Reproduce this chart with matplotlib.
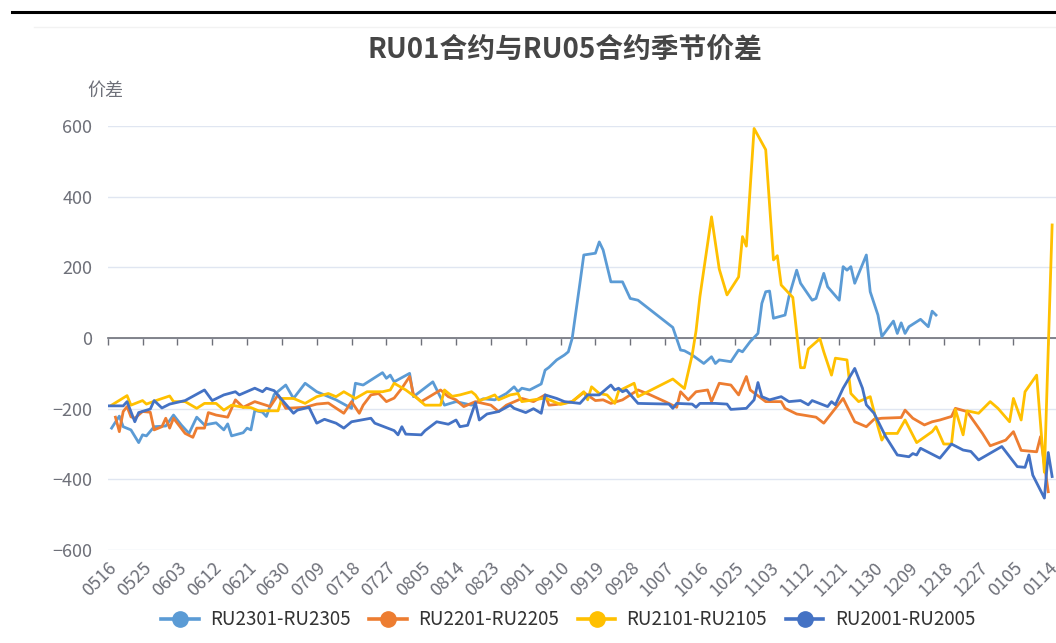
import matplotlib
matplotlib.use('Agg')

import matplotlib.pyplot as plt
import numpy as np
from matplotlib.lines import Line2D

plt.rcParams['font.family'] = ['Noto Sans CJK SC', 'DejaVu Sans']

# x values are day offsets from 05-16 (one category per calendar day)
tick_labels = ['0516', '0525', '0603', '0612', '0621', '0630', '0709', '0718', '0727', '0805',
               '0814', '0823', '0901', '0910', '0919', '0928', '1007', '1016', '1025', '1103',
               '1112', '1121', '1130', '1209', '1218', '1227', '0105', '0114']
tick_step = 9

ru2301_day = [1, 3, 4, 6, 8, 9, 10, 12, 15, 17, 19, 21, 23, 25, 28, 30, 31, 32, 35, 36, 37, 38, 40, 41,
              43, 46, 48, 51, 54, 59, 63, 64, 66, 71, 72, 73, 74, 78, 79, 84, 87, 90, 94, 97, 100,
              103, 105, 106, 107, 109, 112, 113, 114, 116, 118, 119, 120, 122, 123, 126, 127, 128,
              130, 133, 135, 137, 146, 148, 149, 151, 154, 156, 157, 158, 161, 163, 164, 166, 168,
              169, 170, 171, 172, 175, 176, 178, 179, 182, 183, 185, 186, 189, 190, 191, 192, 193,
              196, 197, 199, 200, 203, 204, 205, 206, 207, 210, 212, 213, 214]
ru2301_val = [-255, -221, -251, -260, -296, -274, -277, -251, -249, -218, -246, -270, -224, -246,
              -240, -260, -243, -277, -268, -255, -260, -205, -210, -222, -160, -133, -171, -128,
              -152, -175, -199, -128, -133, -98, -114, -105, -124, -100, -166, -124, -190, -180,
              -190, -172, -175, -157, -138, -152, -142, -147, -130, -91, -83, -62, -48, -39, -1,
              155, 235, 240, 272, 249, 159, 159, 112, 107, 30, -34, -36, -48, -72, -53, -72, -62,
              -67, -34, -39, -10, 13, 98, 131, 133, 56, 65, 117, 192, 155, 107, 112, 183, 145, 107,
              202, 192, 202, 155, 235, 131, 65, 4, 48, 13, 43, 13, 32, 53, 32, 76, 65]

ru2201_day = [2, 3, 4, 5, 6, 7, 9, 11, 12, 14, 15, 16, 17, 20, 22, 23, 25, 26, 28, 31, 33, 35, 38,
              42, 44, 46, 51, 54, 57, 61, 63, 65, 66, 68, 70, 72, 74, 76, 78, 79, 81, 86, 88, 90,
              91, 92, 95, 99, 101, 103, 107, 110, 113, 114, 116, 120, 123, 126, 128, 130, 133, 137,
              140, 144, 147, 148, 150, 152, 155, 156, 158, 161, 163, 165, 166, 170, 174, 175, 178,
              183, 185, 187, 190, 193, 196, 198, 200, 205, 206, 208, 211, 213, 215, 218, 219, 222,
              226, 228, 232, 234, 236, 240, 241, 243]
ru2201_val = [-224, -265, -208, -194, -223, -227, -208, -210, -260, -251, -227, -255, -227, -270,
              -281, -255, -255, -211, -218, -224, -175, -196, -180, -194, -161, -199, -196, -187,
              -184, -213, -180, -213, -190, -161, -157, -180, -170, -142, -109, -161, -180, -147,
              -166, -175, -185, -194, -180, -190, -208, -190, -171, -180, -161, -190, -188, -180,
              -154, -177, -175, -185, -175, -147, -160, -180, -196, -152, -175, -152, -147, -180,
              -128, -133, -161, -109, -147, -180, -180, -199, -215, -224, -241, -213, -171, -237,
              -251, -230, -227, -225, -204, -227, -246, -237, -232, -222, -199, -208, -270, -305,
              -289, -265, -318, -322, -279, -435]

ru2101_day = [1, 5, 6, 9, 10, 13, 16, 17, 20, 23, 25, 28, 30, 32, 35, 37, 39, 44, 45, 48, 51, 54,
              57, 59, 61, 64, 67, 71, 73, 74, 77, 80, 82, 84, 86, 87, 89, 91, 94, 95, 96, 98, 100,
              101, 104, 106, 107, 110, 113, 117, 120, 123, 124, 125, 127, 129, 131, 132, 136, 137,
              146, 149, 151, 152, 153, 156, 158, 160, 163, 164, 165, 167, 170, 172, 173, 174, 177,
              179, 180, 181, 184, 185, 187, 188, 191, 192, 194, 197, 199, 200, 201, 204, 206, 209,
              213, 214, 216, 218, 219, 221, 222, 225, 228, 230, 233, 234, 236, 237, 240, 242, 244]
ru2101_val = [-190, -163, -190, -177, -187, -175, -164, -180, -180, -199, -185, -185, -204, -190,
              -196, -197, -206, -206, -171, -171, -185, -166, -157, -166, -152, -171, -152, -152,
              -147, -128, -147, -171, -190, -190, -190, -147, -165, -161, -152, -161, -177, -170,
              -161, -175, -161, -157, -180, -175, -170, -188, -180, -152, -175, -138, -157, -161,
              -185, -150, -128, -166, -116, -143, -48, 20, 117, 343, 195, 122, 173, 287, 260, 593,
              533, 221, 233, 150, 115, -84, -84, -31, -2, -39, -105, -57, -62, -157, -180, -166,
              -251, -289, -270, -270, -232, -296, -265, -251, -300, -300, -202, -274, -206, -213,
              -180, -199, -237, -171, -232, -152, -105, -380, 320]

ru2001_day = [0, 4, 5, 7, 8, 11, 12, 14, 16, 20, 25, 27, 30, 33, 34, 38, 40, 41, 43, 48, 49, 52,
              54, 56, 59, 61, 63, 68, 69, 74, 75, 76, 77, 81, 82, 85, 88, 90, 91, 93, 95, 96, 98,
              101, 104, 105, 108, 110, 112, 113, 116, 118, 122, 124, 127, 130, 131, 132, 133, 134,
              137, 145, 146, 147, 151, 152, 153, 157, 160, 161, 165, 167, 168, 169, 171, 174, 176,
              179, 181, 182, 186, 187, 188, 190, 193, 195, 196, 198, 201, 204, 207, 208, 209, 210,
              215, 218, 221, 223, 225, 231, 235, 237, 238, 239, 242, 243, 244]
ru2001_val = [-192, -192, -180, -237, -211, -201, -177, -198, -187, -177, -147, -177, -161, -152,
              -161, -142, -152, -142, -149, -213, -204, -196, -241, -230, -241, -255, -237, -227,
              -241, -262, -274, -251, -272, -274, -262, -237, -244, -232, -251, -247, -183, -232,
              -215, -208, -190, -199, -211, -200, -213, -161, -171, -180, -185, -161, -161, -133,
              -147, -142, -152, -147, -185, -187, -199, -185, -187, -196, -185, -185, -187, -202,
              -199, -175, -126, -166, -175, -166, -180, -177, -189, -177, -194, -180, -189, -142,
              -86, -142, -189, -213, -279, -331, -336, -327, -331, -312, -340, -300, -317, -321,
              -345, -307, -364, -366, -331, -388, -453, -324, -392]

series = [
    ('RU2301-RU2305', ru2301_day, ru2301_val, '#5B9BD5'),
    ('RU2201-RU2205', ru2201_day, ru2201_val, '#ED7D31'),
    ('RU2101-RU2105', ru2101_day, ru2101_val, '#FFC000'),
    ('RU2001-RU2005', ru2001_day, ru2001_val, '#4472C4'),
]

axis_grey = '#6E7079'

fig = plt.figure(figsize=(10.56, 6.43), dpi=100)
ax = fig.add_axes([0.102, 0.1446, 0.898, 0.6594])

handles = []
for name, days, vals, color in series:
    ax.plot(days, vals, color=color, lw=2.0, solid_joinstyle='round', zorder=3)
    handles.append(Line2D([], [], color=color, lw=2.6, marker='o', markersize=11,
                          markerfacecolor=color, markeredgecolor=color, label=name))

ax.set_xlim(0, 245)
ax.set_ylim(-600, 600)
ax.set_yticks(np.arange(-600, 601, 200))
ax.grid(axis='y', color='#E0E6F1', lw=1)
ax.set_axisbelow(True)

for side in ['top', 'right', 'left']:
    ax.spines[side].set_visible(False)
ax.spines['bottom'].set_position(('data', 0))
ax.spines['bottom'].set_color(axis_grey)
ax.spines['bottom'].set_linewidth(1.2)
ax.spines['bottom'].set_zorder(2)

ticks = np.arange(len(tick_labels)) * tick_step
ax.set_xticks(ticks)
ax.tick_params(axis='x', direction='out', length=5, width=1, color=axis_grey, labelbottom=False)
ax.tick_params(axis='y', length=0, pad=11, labelsize=13, labelcolor=axis_grey)

sec = ax.secondary_xaxis(0)
sec.set_xticks(ticks)
sec.set_xticklabels(tick_labels, rotation=45, ha='right', va='top', rotation_mode='anchor')
sec.tick_params(length=0, pad=6, labelsize=13, labelcolor=axis_grey)
sec.spines['bottom'].set_visible(False)

ax.text(-0.002, 1.082, '价差', transform=ax.transAxes, ha='center', va='center',
        fontsize=13, color=axis_grey)

fig.text(0.535, 0.922, 'RU01合约与RU05合约季节价差', ha='center', va='center',
         fontsize=20, fontweight='bold', color='#464646')

fig.legend(handles=handles, loc='center', bbox_to_anchor=(0.538, 0.036), ncol=4,
           frameon=False, fontsize=13.5, handlelength=2.0, columnspacing=1.0,
           handletextpad=0.6, labelcolor='#333333')

# page separator lines at the top
fig.add_artist(Line2D([0.011, 1.0], [0.982, 0.982], color='black', lw=2.2))
fig.add_artist(Line2D([0.032, 1.0], [0.958, 0.958], color='#F2F2F2', lw=1))

fig.savefig('out.png', dpi=100)
